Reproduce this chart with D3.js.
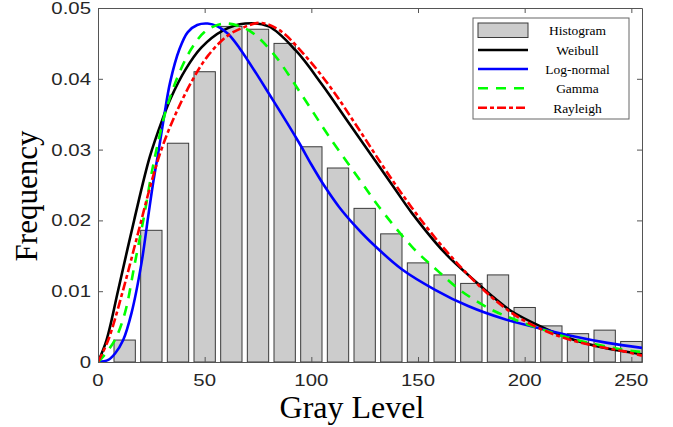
<!DOCTYPE html>
<html>
<head>
<meta charset="utf-8">
<script src="https://cdn.jsdelivr.net/npm/d3@7"></script>
<style>
  html, body { margin: 0; padding: 0; background: #fff; }
  svg { display: block; }
</style>
</head>
<body>
<svg id="chart" width="673" height="427"></svg>
<script>
// ---------- DATA ----------
const binCenters = [12.5, 25, 37.5, 50, 62.5, 75, 87.5, 100, 112.5, 125,
                    137.5, 150, 162.5, 175, 187.5, 200, 212.5, 225, 237.5, 250];
const histValues = [0.0031, 0.0186, 0.0309, 0.0410, 0.0474, 0.0470, 0.0450, 0.0304, 0.0274, 0.0217,
                    0.0181, 0.0140, 0.0123, 0.0111, 0.0123, 0.0077, 0.0051, 0.0040, 0.0045, 0.0029];

const weibull = [[0,0],[4,0.0031],[9.5,0.0102],[17,0.0201],[24.3,0.0290],[30.5,0.0345],[34,0.0372],
  [41,0.0413],[48.4,0.0444],[58.5,0.0468],[69,0.0478],[80,0.0474],[92.7,0.0440],[105,0.0392],[117.5,0.0338],
  [128.4,0.0291],[139.3,0.0244],[147,0.0211],[162.6,0.0154],[178,0.0111],[186,0.0090],[193.7,0.0072],
  [207.7,0.0050],[223.3,0.0031],[238.8,0.0019],[255,0.0011]];

const lognormal = [[0,0],[4.8,0.0003],[8,0.0012],[11.8,0.0031],[15.7,0.0069],[20.4,0.0140],[23.5,0.0205],
  [26,0.0256],[28.5,0.0300],[31,0.0347],[33.8,0.0395],[38.2,0.0442],[42.1,0.0466],[46.5,0.0476],
  [51.4,0.0478],[56,0.0474],[60.8,0.0464],[66.2,0.0444],[81.8,0.0371],[94.2,0.0310],[100,0.0279],
  [106.7,0.0246],[113,0.0219],[120,0.0194],[127,0.0172],[142.4,0.0131],[158,0.0102],[173.5,0.0079],
  [190,0.0061],[207.7,0.0047],[223.3,0.0036],[238.8,0.0027],[255,0.0020]];

const gamma = [[0,0],[2.5,0.0008],[7.9,0.0031],[12.6,0.0069],[17.3,0.0140],[21.9,0.0211],[24.6,0.0258],
  [27.4,0.0300],[32,0.0357],[37.5,0.0404],[43.7,0.0442],[49.9,0.0466],[56,0.0476],[61,0.0478],
  [70.9,0.0468],[81.8,0.0437],[95.8,0.0376],[108.2,0.0319],[123.7,0.0253],[131.5,0.0220],[147.1,0.0163],
  [159.5,0.0128],[170.4,0.0100],[184.4,0.0074],[195.3,0.0060],[209.3,0.0045],[223.3,0.0032],
  [245,0.0018],[255,0.0014]];

const rayleigh = [[0,0],[4.8,0.0031],[11.8,0.0102],[18,0.0173],[24.5,0.0248],[29.7,0.0300],[35.9,0.0347],
  [43.7,0.0395],[51.4,0.0432],[60.8,0.0461],[68.6,0.0473],[76,0.0479],[84.9,0.0469],[97.3,0.0432],
  [109.7,0.0385],[122.2,0.0329],[134.6,0.0272],[147.1,0.0218],[162.6,0.0159],[178.2,0.0109],
  [190,0.0078],[200,0.0058],[215.5,0.0037],[231,0.0024],[246.6,0.0015],[255,0.0009]];

const xTicks = [0, 50, 100, 150, 200, 250];
const yTicks = [0, 0.01, 0.02, 0.03, 0.04, 0.05];
const yTickLabels = ["0", "0.01", "0.02", "0.03", "0.04", "0.05"];
const legendLabels = ["Histogram", "Weibull", "Log-normal", "Gamma", "Rayleigh"];

// ---------- CHART ----------
const svg = d3.select("#chart");
const L = 98, R = 642, T = 8, B = 362;
const x = d3.scaleLinear().domain([0, 255]).range([L, R]);
const y = d3.scaleLinear().domain([0, 0.05]).range([B, T]);

svg.append("rect").attr("width", 673).attr("height", 427).attr("fill", "#fff");

svg.append("defs").append("clipPath").attr("id", "plotclip")
  .append("rect").attr("x", L).attr("y", T).attr("width", R - L).attr("height", B - T);

// Bars
const barHalf = 5;
svg.append("g").selectAll("rect").data(binCenters).join("rect")
  .attr("x", d => x(d - barHalf))
  .attr("width", d => x(d + barHalf) - x(d - barHalf))
  .attr("y", (d, i) => y(histValues[i]))
  .attr("height", (d, i) => y(0) - y(histValues[i]))
  .attr("fill", "#cccccc").attr("stroke", "#3a3a3a").attr("stroke-width", 1);

// Curves
const line = d3.line().x(d => x(d[0])).y(d => y(d[1])).curve(d3.curveCatmullRom.alpha(0.5));
const series = [
  { data: weibull,   color: "#000000", dash: null },
  { data: lognormal, color: "#0000ff", dash: null },
  { data: gamma,     color: "#00ff00", dash: "10,8" },
  { data: rayleigh,  color: "#ff0000", dash: "9,3,4,3" }
];
const cg = svg.append("g").attr("clip-path", "url(#plotclip)");
series.forEach(s => {
  cg.append("path").attr("d", line(s.data))
    .attr("fill", "none").attr("stroke", s.color).attr("stroke-width", 2.6)
    .attr("stroke-dasharray", s.dash);
});

// Axes (ticks inward on all four sides)
const axisColor = "#555";
const gB = svg.append("g").attr("transform", `translate(0,${B})`)
  .call(d3.axisBottom(x).tickValues(xTicks).tickSizeInner(-5).tickSizeOuter(0).tickFormat(""));
const gT = svg.append("g").attr("transform", `translate(0,${T})`)
  .call(d3.axisTop(x).tickValues(xTicks).tickSizeInner(-5).tickSizeOuter(0).tickFormat(""));
const gL = svg.append("g").attr("transform", `translate(${L},0)`)
  .call(d3.axisLeft(y).tickValues(yTicks).tickSizeInner(-5).tickSizeOuter(0).tickFormat(""));
const gR = svg.append("g").attr("transform", `translate(${R},0)`)
  .call(d3.axisRight(y).tickValues(yTicks).tickSizeInner(-5).tickSizeOuter(0).tickFormat(""));
[gB, gT, gL, gR].forEach(g => {
  g.selectAll("path.domain").attr("stroke", axisColor).attr("stroke-width", 1);
  g.selectAll(".tick line").attr("stroke", axisColor).attr("stroke-width", 1);
});

// Tick labels (slightly stretched horizontally as in the reference)
const tickFont = "'Liberation Sans', Arial, Helvetica, sans-serif";
svg.append("g").selectAll("text").data(xTicks).join("text")
  .attr("transform", d => `translate(${x(d)},${386}) scale(1.2,1)`)
  .attr("text-anchor", "middle")
  .attr("font-family", tickFont).attr("font-size", 17).attr("fill", "#262626")
  .text(d => d);
svg.append("g").selectAll("text").data(yTicks).join("text")
  .attr("transform", d => `translate(${L - 7},${y(d) + 6}) scale(1.2,1)`)
  .attr("text-anchor", "end")
  .attr("font-family", tickFont).attr("font-size", 17).attr("fill", "#262626")
  .text((d, i) => yTickLabels[i]);

// Axis titles
const serif = "'Liberation Serif', 'Times New Roman', Times, serif";
svg.append("text").attr("x", 352).attr("y", 418).attr("text-anchor", "middle")
  .attr("font-family", serif).attr("font-size", 32).attr("fill", "#000").text("Gray Level");
svg.append("text").attr("transform", "translate(37,196) rotate(-90)").attr("text-anchor", "middle")
  .attr("font-family", serif).attr("font-size", 31).attr("fill", "#000").text("Frequency");

// Legend
const lg = svg.append("g");
lg.append("rect").attr("x", 473).attr("y", 18).attr("width", 156).attr("height", 101)
  .attr("fill", "#fff").attr("stroke", "#666").attr("stroke-width", 1);
const rowY = [30, 50, 69, 88.3, 107.7];
lg.append("rect").attr("x", 478).attr("y", 23).attr("width", 50).attr("height", 14.5)
  .attr("fill", "#cccccc").attr("stroke", "#3a3a3a").attr("stroke-width", 1);
series.forEach((s, i) => {
  lg.append("line").attr("x1", 478).attr("x2", 528).attr("y1", rowY[i + 1]).attr("y2", rowY[i + 1])
    .attr("stroke", s.color).attr("stroke-width", 2.6).attr("stroke-dasharray", s.dash);
});
lg.selectAll("text.lab").data(legendLabels).join("text").attr("class", "lab")
  .attr("x", 577.5).attr("y", (d, i) => rowY[i] + 5)
  .attr("text-anchor", "middle")
  .attr("font-family", serif).attr("font-size", 13.5).attr("fill", "#000")
  .text(d => d);
</script>
</body>
</html>
